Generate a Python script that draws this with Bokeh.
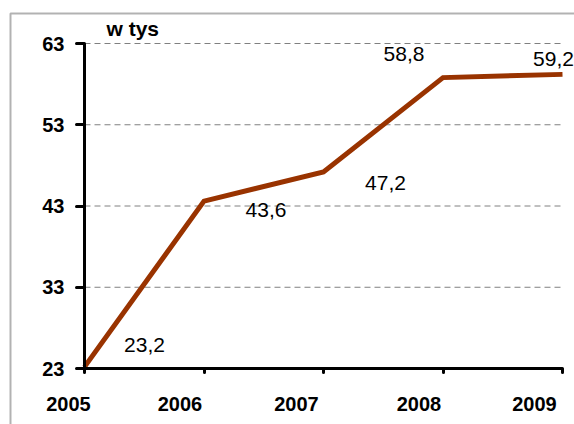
from bokeh.plotting import figure
from bokeh.models import (Range1d, LinearAxis, FixedTicker, ColumnDataSource,
                          LabelSet, Label, BoxAnnotation)
from bokeh.core.properties import value
from bokeh.embed import file_html
from bokeh.resources import INLINE

# ---- data ----
years = [2005, 2006, 2007, 2008, 2009]
year_labels = ["2005", "2006", "2007", "2008", "2009"]
values = [23.2, 43.6, 47.2, 58.8, 59.2]
value_labels = ["23,2", "43,6", "47,2", "58,8", "59,2"]
y_ticks = [23, 33, 43, 53, 63]
unit_label = "w tys"

# ---- styling / layout (screen px) ----
label_dx = [60, 62, 62, -39, -9]
label_dy = [22, -9, -11, 24, 15]
year_dx = [-16, -24, -27, -24, -28]

W, H = 574, 424
AX_LEFT, AX_RIGHT, AX_TOP, AX_BOTTOM = 84, 562, 43, 368

FONT = "Liberation Sans"
LINE_COLOR = "#993300"

# the plot frame covers the whole canvas; the axes sit inside it
sx = (AX_RIGHT - AX_LEFT) / (years[-1] - years[0])
sy = (AX_BOTTOM - AX_TOP) / (y_ticks[-1] - y_ticks[0])
x_range = Range1d(years[0] - AX_LEFT / sx, years[-1] + (W - AX_RIGHT) / sx)
y_range = Range1d(y_ticks[0] - (H - AX_BOTTOM) / sy, y_ticks[-1] + AX_TOP / sy)

p = figure(width=W, height=H, output_backend="svg", toolbar_location=None,
           x_range=x_range, y_range=y_range, title=None,
           x_axis_type=None, y_axis_type=None, min_border=0)
p.outline_line_color = None
p.background_fill_color = "white"
p.border_fill_color = "white"
p.xgrid.visible = False
p.ygrid.visible = False

# outer chart border (runs off the picture on the right and bottom)
p.add_layout(BoxAnnotation(left=10, right=W + 50, top=13, bottom=H + 50,
                           left_units="canvas", right_units="canvas",
                           top_units="canvas", bottom_units="canvas",
                           fill_alpha=0, fill_color=None,
                           line_color="black", line_width=2))

# dashed horizontal gridlines
p.segment(x0=[years[0]] * (len(y_ticks) - 1), x1=[years[-1]] * (len(y_ticks) - 1),
          y0=y_ticks[1:], y1=y_ticks[1:], line_color="#808080", line_width=1,
          line_dash="6 4")

# y axis
yaxis = LinearAxis(ticker=FixedTicker(ticks=y_ticks), fixed_location=years[0],
                   bounds=(y_ticks[0], y_ticks[-1]))
yaxis.axis_line_width = 3
yaxis.axis_line_color = "black"
yaxis.major_tick_out = 8
yaxis.major_tick_in = 0
yaxis.major_tick_line_width = 3
yaxis.major_tick_line_cap = "round"
yaxis.minor_tick_line_color = None
yaxis.major_label_text_font = FONT
yaxis.major_label_text_font_size = "20px"
yaxis.major_label_text_font_style = "bold"
yaxis.major_label_text_color = "black"
yaxis.major_label_standoff = 12
p.add_layout(yaxis, "left")

# x axis (line + ticks); its labels are drawn shifted as in the reference
xaxis = LinearAxis(ticker=FixedTicker(ticks=years), fixed_location=y_ticks[0],
                   bounds=(years[0], years[-1]))
xaxis.axis_line_width = 3
xaxis.axis_line_color = "black"
xaxis.major_tick_out = 4
xaxis.major_tick_in = 0
xaxis.major_tick_line_width = 3
xaxis.major_tick_line_cap = "round"
xaxis.minor_tick_line_color = None
xaxis.major_label_text_color = None
p.add_layout(xaxis, "below")

# data line
src = ColumnDataSource(dict(x=years, y=values, t=value_labels,
                            dx=label_dx, dy=label_dy))
p.line("x", "y", source=src, line_color=LINE_COLOR, line_width=5,
       line_join="miter")

labels = LabelSet(x="x", y="y", text="t", source=src, x_offset="dx",
                  y_offset="dy", text_align="center", text_baseline="middle",
                  text_font=value(FONT), text_font_size=value("21px"),
                  text_color="black")
p.add_layout(labels)

# year labels under the x axis
ysrc = ColumnDataSource(dict(x=years, y=[y_ticks[0]] * len(years),
                             t=year_labels, dx=year_dx))
ylabels = LabelSet(x="x", y="y", text="t", source=ysrc, x_offset="dx",
                   y_offset=-35, text_align="center", text_baseline="middle",
                   text_font=value(FONT), text_font_size=value("20px"),
                   text_font_style="bold", text_color="black")
p.add_layout(ylabels)

# unit label
p.add_layout(Label(x=years[0], y=y_ticks[-1], text=unit_label, x_offset=22,
                   y_offset=15, text_align="left", text_baseline="alphabetic",
                   text_font=FONT, text_font_size="21px",
                   text_font_style="bold", text_color="black"))

open("out.html", "w").write(file_html(p, INLINE))
